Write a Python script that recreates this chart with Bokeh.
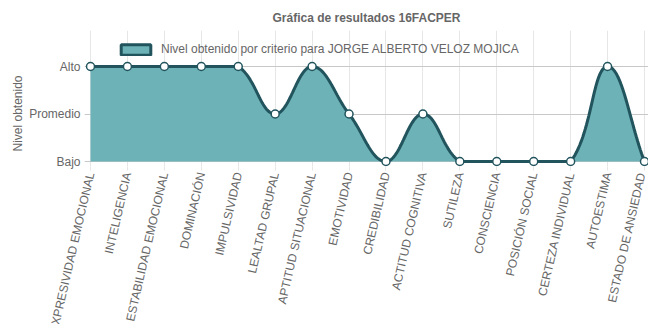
import math
from bokeh.plotting import figure
from bokeh.models import Range1d, FixedTicker, Legend, LegendItem, Title
from bokeh.embed import file_html
from bokeh.resources import INLINE

categories = ["EXPRESIVIDAD EMOCIONAL", "INTELIGENCIA", "ESTABILIDAD EMOCIONAL",
              "DOMINACIÓN", "IMPULSIVIDAD", "LEALTAD GRUPAL", "APTITUD SITUACIONAL",
              "EMOTIVIDAD", "CREDIBILIDAD", "ACTITUD COGNITIVA", "SUTILEZA",
              "CONSCIENCIA", "POSICIÓN SOCIAL", "CERTEZA INDIVIDUAL", "AUTOESTIMA",
              "ESTADO DE ANSIEDAD"]
# 1 = Bajo, 2 = Promedio, 3 = Alto
levels = [3, 3, 3, 3, 3, 2, 3, 2, 1, 2, 1, 1, 1, 1, 3, 1]
level_values = [1, 2, 3]
level_labels = ["Bajo", "Promedio", "Alto"]
series_name = "Nivel obtenido por criterio para JORGE ALBERTO VELOZ MOJICA"
title_text = "Gráfica de resultados 16FACPER"
y_title = "Nivel obtenido"

FILL = "#6db2b6"
LINE = "#22545e"
TXT = "#666666"
FONT = "Liberation Sans"

PX_X = 36.93
PX_Y = 47.5
tension = 0.4
n = len(levels)
xs = list(range(n))
ys = levels
ymin, ymax = min(level_values), max(level_values)

cps = []
for i in range(n):
    prev = (xs[max(i - 1, 0)], ys[max(i - 1, 0)])
    cur = (xs[i], ys[i])
    nxt = (xs[min(i + 1, n - 1)], ys[min(i + 1, n - 1)])
    d01 = math.hypot((cur[0] - prev[0]) * PX_X, (cur[1] - prev[1]) * PX_Y)
    d12 = math.hypot((nxt[0] - cur[0]) * PX_X, (nxt[1] - cur[1]) * PX_Y)
    tot = d01 + d12
    s01 = d01 / tot if tot else 0
    s12 = d12 / tot if tot else 0
    fa, fb = tension * s01, tension * s12
    pcp = (cur[0] - fa * (nxt[0] - prev[0]), cur[1] - fa * (nxt[1] - prev[1]))
    ncp = (cur[0] + fb * (nxt[0] - prev[0]), cur[1] + fb * (nxt[1] - prev[1]))
    clamp = lambda q: (min(max(q[0], 0), n - 1), min(max(q[1], ymin), ymax))
    cps.append((clamp(pcp), clamp(ncp)))

cx, cy = [], []
steps = 30
for i in range(n - 1):
    p0 = (xs[i], ys[i]); p1 = cps[i][1]; p2 = cps[i + 1][0]; p3 = (xs[i + 1], ys[i + 1])
    for k in range(steps + (1 if i == n - 2 else 0)):
        t = k / steps
        a = (1 - t) ** 3; b = 3 * (1 - t) ** 2 * t; c = 3 * (1 - t) * t ** 2; d = t ** 3
        cx.append(a * p0[0] + b * p1[0] + c * p2[0] + d * p3[0])
        cy.append(a * p0[1] + b * p1[1] + c * p2[1] + d * p3[1])

padl = 6 / PX_X
padr = 4 / PX_X
padt = 36 / PX_Y
padb = 5 / PX_Y

p = figure(frame_width=564, frame_height=136, output_backend="svg", toolbar_location=None,
           x_range=Range1d(-padl, n - 1 + padr), y_range=Range1d(ymin - padb, ymax + padt),
           min_border_left=84, min_border_right=0, min_border_top=30, min_border_bottom=0)
p.outline_line_color = None
p.background_fill_color = "white"

p.title.text = title_text
p.title.align = "center"
p.title.text_font = FONT
p.title.text_font_size = "12px"
p.title.text_color = TXT
p.title.text_font_style = "bold"
p.title.standoff = 12

p.varea(x=cx, y1=ymin, y2=cy, fill_color=FILL, fill_alpha=1.0)
p.line(cx, cy, line_color=LINE, line_width=3)
p.scatter(xs, ys, size=8, fill_color="white", line_color=LINE, line_width=1.5)

nan = float("nan")
legend_swatch = p.patch([nan, nan], [nan, nan], fill_color=FILL, line_color=LINE, line_width=3)
legend = Legend(items=[LegendItem(label=series_name, renderers=[legend_swatch])],
                orientation="horizontal", location=(33, 110),
                glyph_width=37, glyph_height=13, label_text_font=FONT,
                label_text_font_size="12px", label_text_color=TXT,
                border_line_color=None, background_fill_alpha=0,
                padding=0, margin=0, label_standoff=7, spacing=0)
p.add_layout(legend, "center")

p.xaxis.ticker = FixedTicker(ticks=xs)
p.xaxis.major_label_overrides = {i: c for i, c in enumerate(categories)}
p.xaxis.major_label_orientation = math.radians(77)
p.xaxis.axis_line_color = None
p.xaxis.major_tick_in = 0
p.xaxis.major_tick_out = 4
p.xaxis.major_tick_line_color = "#e6e6e6"
p.xaxis.minor_tick_line_color = None
p.xaxis.major_label_text_font = FONT
p.xaxis.major_label_text_font_size = "12px"
p.xaxis.major_label_text_color = TXT
p.xaxis.major_label_standoff = 2

p.yaxis.ticker = FixedTicker(ticks=level_values)
p.yaxis.major_label_overrides = {v: l for v, l in zip(level_values, level_labels)}
p.yaxis.axis_line_color = None
p.yaxis.major_tick_in = 0
p.yaxis.major_tick_out = 0
p.yaxis.minor_tick_line_color = None
p.yaxis.major_label_text_font = FONT
p.yaxis.major_label_text_font_size = "12px"
p.yaxis.major_label_text_color = TXT
p.yaxis.major_label_standoff = 4

ytitle = Title(text=y_title, align="left", offset=15, text_font=FONT,
               text_font_size="12px", text_color=TXT, text_font_style="normal",
               standoff=4)
p.add_layout(ytitle, "left")

p.xgrid.grid_line_color = "#e6e6e6"
p.xgrid.bounds = (ymin - 1, ymax)
p.ygrid.grid_line_color = "#c8c8c8"
p.ygrid.bounds = (-1, n - 1)

open("out.html", "w").write(file_html(p, INLINE))
